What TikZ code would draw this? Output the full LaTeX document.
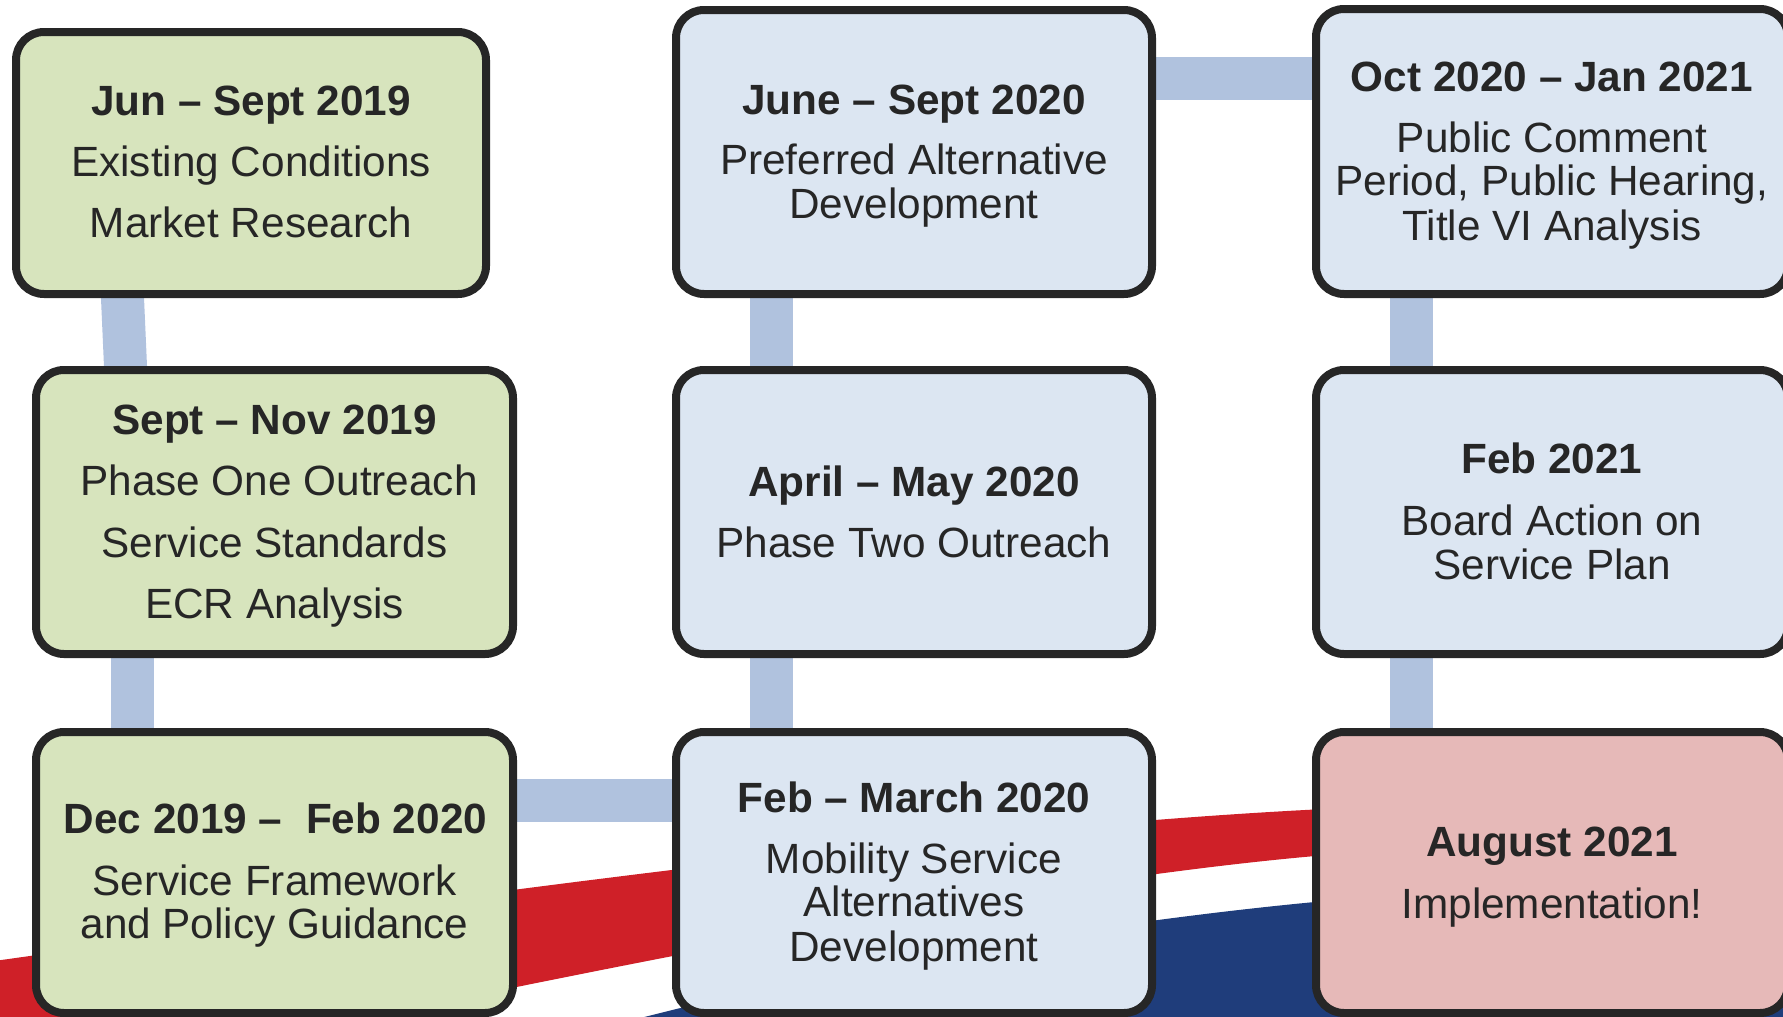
\documentclass[tikz,border=0pt]{standalone}
\usepackage{fontspec}
\setmainfont{Liberation Sans}
\usetikzlibrary{calc}
\definecolor{boxgreen}{HTML}{D7E4BD}
\definecolor{boxblue}{HTML}{DCE6F2}
\definecolor{boxpink}{HTML}{E6B9B8}
\definecolor{edgegray}{HTML}{262626}
\definecolor{linkblue}{HTML}{B0C2DE}
\definecolor{swred}{HTML}{CF2028}
\definecolor{swblue}{HTML}{1F3D7B}
\pgfdeclarelayer{back}
\pgfdeclarelayer{mid}
\pgfsetlayers{back,mid,main}
\begin{document}
\begin{tikzpicture}[x=1pt,y=-1pt,
  box/.style={draw=edgegray, line width=8pt, rounded corners=28pt, rectangle, inner sep=0pt},
  conn/.style={draw=linkblue, line width=43pt, shorten <=-10pt, shorten >=-10pt},
  txt/.style={anchor=base, inner sep=0pt, text=edgegray, font=\fontsize{42.3}{44.3}\selectfont},
  ttl/.style={txt, font=\fontsize{42.3}{44.3}\selectfont\bfseries}]
\useasboundingbox (0,0) rectangle (1783,1017);
\clip (0,0) rectangle (1783,1017);

% swooshes
\begin{pgfonlayer}{back}
\fill[swred] (-20,963) .. controls (400,904) and (1000,818) .. (1400,806)
  -- (1800,800) -- (1800,845) -- (1400,850) .. controls (1050,867.5) and (450,1000.5) .. (0,1095) -- cycle;
\fill[swblue] (560,1040) .. controls (800,970) and (1150,912) .. (1400,895)
  -- (1800,890) -- (1800,1100) -- (560,1100) -- cycle;
\end{pgfonlayer}

% boxes
\node[box, fill=boxgreen, minimum width=470pt, minimum height=262pt] (b1) at (251,163) {};
\node[box, fill=boxgreen, minimum width=477pt, minimum height=284pt] (b2) at (274.5,512) {};
\node[box, fill=boxgreen, minimum width=477pt, minimum height=281pt] (b3) at (274.5,872.5) {};
\node[box, fill=boxblue, minimum width=476pt, minimum height=284pt] (b4) at (914,152) {};
\node[box, fill=boxblue, minimum width=476pt, minimum height=284pt] (b5) at (914,512) {};
\node[box, fill=boxblue, minimum width=476pt, minimum height=281pt] (b6) at (914,872.5) {};
\node[box, fill=boxblue, minimum width=472pt, minimum height=285pt] (b7) at (1552,151.5) {};
\node[box, fill=boxblue, minimum width=472pt, minimum height=284pt] (b8) at (1552,512) {};
\node[box, fill=boxpink, minimum width=472pt, minimum height=281pt] (b9) at (1552,872.5) {};

% connectors
\begin{pgfonlayer}{mid}
\draw[conn] ([xshift=110.5pt]b1.south west) -- ([xshift=93.5pt]b2.north west);
\draw[conn] ([xshift=100pt]b2.south west) -- ([xshift=100pt]b3.north west);
\draw[conn] ([yshift=-72pt]b3.north east) -- ([yshift=-72pt]b6.north west);
\draw[conn] ([xshift=99pt]b6.north west) -- ([xshift=99pt]b5.south west);
\draw[conn] ([xshift=99pt]b5.north west) -- ([xshift=99pt]b4.south west);
\draw[conn] ([yshift=-72pt]b4.north east) -- ([yshift=-72pt]b4.north east -| b7.west);
\draw[conn] ([xshift=99pt]b7.south west) -- ([xshift=99pt]b8.north west);
\draw[conn] ([xshift=99pt]b8.south west) -- ([xshift=99pt]b9.north west);
\end{pgfonlayer}

% texts
\node[ttl] (t1a) at (251,115) {Jun – Sept 2019};
\node[txt] (t1b) at (251,176) {Existing Conditions};
\node[txt] (t1c) at (251,237) {Market Research};

\node[ttl] (t2a) at (274.5,434) {Sept – Nov 2019};
\node[txt] (t2b) at (279,495) {Phase One Outreach};
\node[txt] (t2c) at (274.5,557) {Service Standards};
\node[txt] (t2d) at (274.5,618.5) {ECR Analysis};

\node[ttl] (t3a) at (275.5,833) {Dec 2019 –\ \ Feb 2020};
\node[txt] (t3b) at (274.5,895) {Service Framework};
\node[txt] (t3c) at (274.5,938) {and Policy Guidance};

\node[ttl] (t4a) at (914,114) {June – Sept 2020};
\node[txt] (t4b) at (914,174) {Preferred Alternative};
\node[txt] (t4c) at (914,218) {Development};

\node[ttl] (t5a) at (914,496) {April – May 2020};
\node[txt] (t5b) at (914,557) {Phase Two Outreach};

\node[ttl] (t6a) at (914,812) {Feb – March 2020};
\node[txt] (t6b) at (914,873) {Mobility Service};
\node[txt] (t6c) at (914,916) {Alternatives};
\node[txt] (t6d) at (914,961) {Development};

\node[ttl] (t7a) at (1552,91) {Oct 2020 – Jan 2021};
\node[txt] (t7b) at (1552,152) {Public Comment};
\node[txt] (t7c) at (1552,195.6) {Period, Public Hearing,};
\node[txt] (t7d) at (1552,240) {Title VI Analysis};

\node[ttl] (t8a) at (1552,473) {Feb 2021};
\node[txt] (t8b) at (1552,535.5) {Board Action on};
\node[txt] (t8c) at (1552,579) {Service Plan};

\node[ttl] (t9a) at (1552,856) {August 2021};
\node[txt] (t9b) at (1552,918) {Implementation!};
\end{tikzpicture}
\end{document}
